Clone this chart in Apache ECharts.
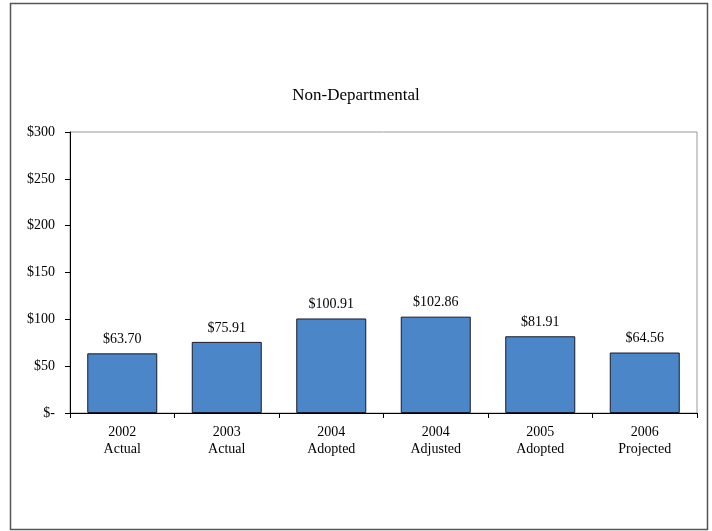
<!DOCTYPE html>
<html><head><meta charset="utf-8">
<script src="https://cdn.jsdelivr.net/npm/echarts@6/dist/echarts.min.js"></script>
<style>html,body{margin:0;padding:0;background:#fff;}#c{width:712px;height:531px;}</style>
</head><body><div id="c"></div>
<script>
const categories = ["2002\nActual","2003\nActual","2004\nAdopted","2004\nAdjusted","2005\nAdopted","2006\nProjected"];
const values = [63.70, 75.91, 100.91, 102.86, 81.91, 64.56];
const yTicks = [0, 50, 100, 150, 200, 250, 300];
const title = "Non-Departmental";

const chart = echarts.init(document.getElementById('c'), null, {renderer:'canvas'});
const font = "'Liberation Serif', 'Times New Roman', serif";
chart.setOption({
  animation: false,
  textStyle: {fontFamily: font},
  graphic: [{type:'rect', shape:{x:10.5,y:3.5,width:697,height:526}, style:{fill:null, stroke:'#555', lineWidth:1.5}, silent:true}],
  title: {text: title, left: 'center', top: 82, textStyle:{fontFamily: font, fontSize: 17, fontWeight:'normal', color:'#000'}},
  grid: {left: 70, right: 15, top: 132, bottom: 118, show: true, borderColor: '#999', borderWidth: 1, backgroundColor:'transparent'},
  xAxis: {
    type: 'category', data: categories,
    axisLine: {show:true, lineStyle:{color:'#000', width:1}},
    axisTick: {show:true, alignWithLabel:false, length:5, lineStyle:{color:'#000'}},
    axisLabel: {color:'#000', fontSize: 14, fontFamily: font, lineHeight: 17, margin: 11},
    splitLine: {show:false}
  },
  yAxis: {
    type: 'value', min: 0, max: 300, interval: 50,
    axisLine: {show:true, lineStyle:{color:'#000', width:1}},
    axisTick: {show:true, length:5, lineStyle:{color:'#000'}},
    axisLabel: {color:'#000', fontSize: 14, fontFamily: font, margin: 15,
      formatter: v => yTicks.includes(v) ? (v === 0 ? '$-' : '$' + v) : ''},
    splitLine: {show:false}
  },
  series: [{
    type: 'bar', data: values, barWidth: 70,
    itemStyle: {color:'#4a86c8', borderColor:'#1a1a2a', borderWidth:1},
    label: {show:true, position:'top', distance: 7, color:'#000', fontSize: 14, fontFamily: font,
      formatter: p => '$' + p.value.toFixed(2)}
  }]
});
</script></body></html>
